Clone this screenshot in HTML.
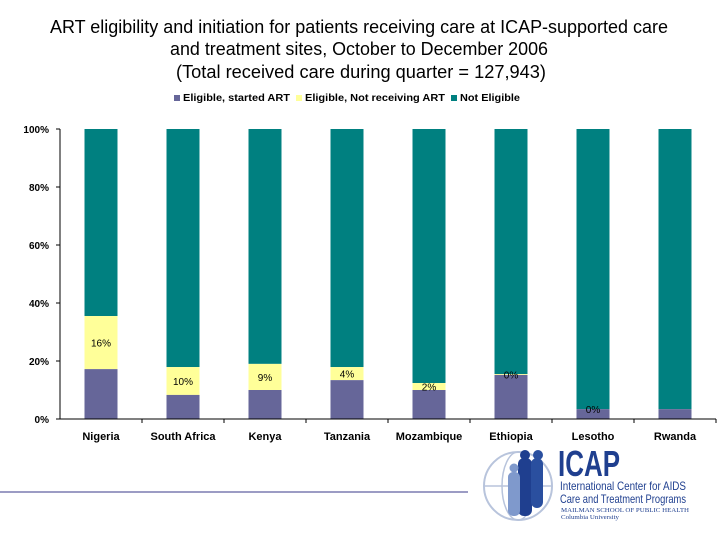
<!DOCTYPE html>
<html><head><meta charset="utf-8"><style>
body{margin:0;background:#fff;}
svg{display:block;font-family:"Liberation Sans",Arial,sans-serif;}
</style></head><body>
<svg id="chart" width="720" height="540" viewBox="0 0 720 540">
<g font-size="18" text-anchor="middle" fill="#000">
<text x="359" y="33" textLength="618" lengthAdjust="spacingAndGlyphs">ART eligibility and initiation for patients receiving care at ICAP-supported care</text>
<text x="359" y="55" textLength="378" lengthAdjust="spacingAndGlyphs">and treatment sites, October to December 2006</text>
<text x="361" y="78" textLength="370" lengthAdjust="spacingAndGlyphs">(Total received care during quarter =  127,943)</text>
</g>
<g font-size="10" font-weight="bold">
<g><rect x="174" y="95" width="6" height="6" fill="#666699"/><text x="183" y="101" textLength="107" lengthAdjust="spacingAndGlyphs">Eligible, started ART</text></g>
<g><rect x="296" y="95" width="6" height="6" fill="#ffff99"/><text x="305" y="101" textLength="140" lengthAdjust="spacingAndGlyphs">Eligible, Not receiving ART</text></g>
<g><rect x="451" y="95" width="6" height="6" fill="#008080"/><text x="460" y="101" textLength="60" lengthAdjust="spacingAndGlyphs">Not Eligible</text></g>
</g>
<g id="plot"></g>
<line x1="0" y1="492" x2="468" y2="492" stroke="#3a3a8a" stroke-width="1"/>
<g>
<circle cx="518" cy="486" r="34" fill="none" stroke="#b8c4dc" stroke-width="2"/>
<ellipse cx="518" cy="486" rx="16" ry="34" fill="none" stroke="#b8c4dc" stroke-width="1.5"/>
<line x1="484" y1="486" x2="552" y2="486" stroke="#b8c4dc" stroke-width="1.5"/>
<rect x="518" y="458" width="14" height="58" rx="6" fill="#1f3f8f"/>
<rect x="531" y="458" width="12" height="50" rx="6" fill="#2a4f9f"/>
<rect x="508" y="472" width="12" height="44" rx="5" fill="#7f99cc"/>
<circle cx="525" cy="455" r="5" fill="#1f3f8f"/>
<circle cx="538" cy="455" r="5" fill="#2a4f9f"/>
<circle cx="514" cy="468" r="4.5" fill="#7f99cc"/>
<text x="558" y="476" font-size="36" font-weight="bold" fill="#1f3f8f" textLength="62" lengthAdjust="spacingAndGlyphs">ICAP</text>
<text x="560" y="490" font-size="12" fill="#1f3f8f" textLength="126" lengthAdjust="spacingAndGlyphs">International Center for AIDS</text>
<text x="560" y="503" font-size="12" fill="#1f3f8f" textLength="126" lengthAdjust="spacingAndGlyphs">Care and Treatment Programs</text>
<text x="561" y="512" font-size="6" fill="#1f3f8f" font-family="Liberation Serif,serif" textLength="128" lengthAdjust="spacingAndGlyphs">MAILMAN SCHOOL OF PUBLIC HEALTH</text>
<text x="561" y="519" font-size="6" fill="#1f3f8f" font-family="Liberation Serif,serif" textLength="58" lengthAdjust="spacingAndGlyphs">Columbia University</text>
</g>
</svg>
<script>
const categories=["Nigeria","South Africa","Kenya","Tanzania","Mozambique","Ethiopia","Lesotho","Rwanda"];
const startedART=[17.2,8.3,10,13.4,10,15.2,3.4,3.4];
const notReceiving=[18.3,9.6,9,4.5,2.4,0.3,0,0];
const segLabels=["16%","10%","9%","4%","2%","0%","0%",""];
const yTicks=[0,20,40,60,80,100];
const NS="http://www.w3.org/2000/svg";
const plot=document.getElementById('plot');
const x0=60,x1=716,y0=419,y1=129;
const yS=v=>y0-(v/100)*(y0-y1);
const band=(x1-x0)/categories.length;
const xC=i=>x0+band*(i+0.5);
const bw=33;
function mk(tag,attrs){const e=document.createElementNS(NS,tag);for(const k in attrs)e.setAttribute(k,attrs[k]);plot.appendChild(e);return e;}
categories.forEach((c,i)=>{
  const s=startedART[i],n=notReceiving[i];
  const r3=mk('rect',{x:xC(i)-bw/2,y:yS(100),width:bw,height:yS(s+n)-yS(100),fill:'#008080'});
  
  
  if(n>0){const r2=mk('rect',{x:xC(i)-bw/2,y:yS(s+n),width:bw,height:yS(s)-yS(s+n),fill:'#ffff99'});
  
  }
  const r1=mk('rect',{x:xC(i)-bw/2,y:yS(s),width:bw,height:y0-yS(s),fill:'#666699'});
  
  
  if(segLabels[i]){const t=mk('text',{x:xC(i),y:yS(s+n/2)+4,'font-size':10,'text-anchor':'middle',fill:'#000'});t.textContent=segLabels[i];
  
  }
  const l=mk('text',{x:xC(i),y:440,'font-size':11,'font-weight':'bold','text-anchor':'middle'});l.textContent=c;
  
  
  const tk=mk('line',{x1:x0+band*(i+1),x2:x0+band*(i+1),y1:y0,y2:y0+4,stroke:'#000'});
  
  
});
const ya=mk('line',{x1:x0,x2:x0,y1:y1,y2:y0,stroke:'#000'});


const xa=mk('line',{x1:x0,x2:x1,y1:y0,y2:y0,stroke:'#000'});


yTicks.forEach(v=>{
  const t=mk('line',{x1:x0-4,x2:x0,y1:yS(v),y2:yS(v),stroke:'#000'});
  
  
  const l=mk('text',{x:x0-11,y:yS(v)+4,'font-size':10,'font-weight':'bold','text-anchor':'end'});l.textContent=v+'%';
  
  
});
</script>
</body></html>
